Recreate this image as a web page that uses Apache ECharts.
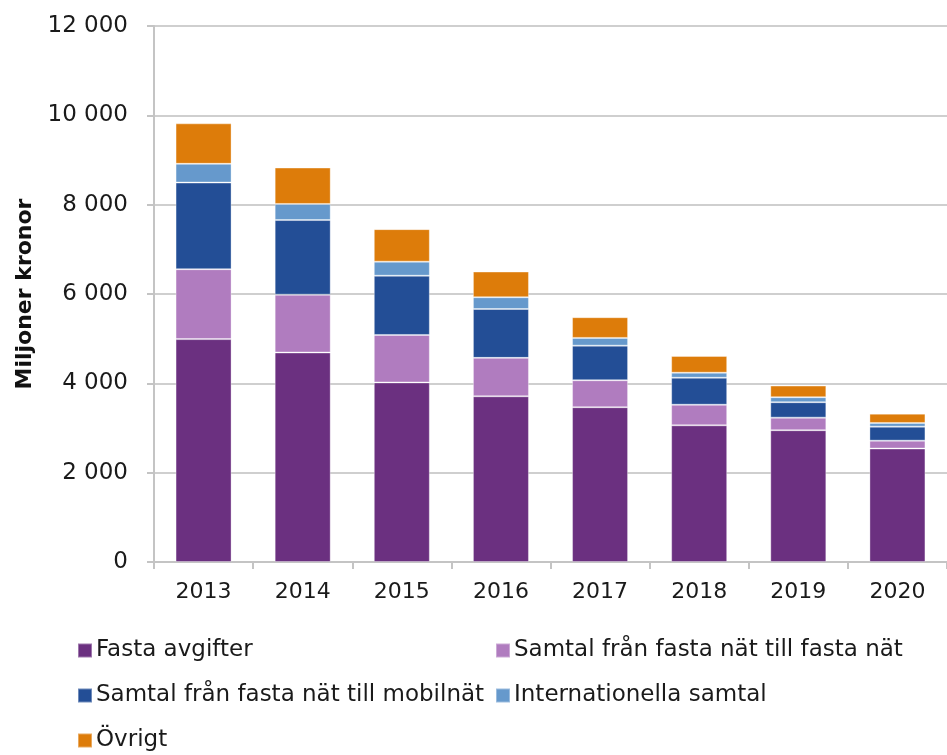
<!DOCTYPE html>
<html><head><meta charset="utf-8">
<script src="https://cdn.jsdelivr.net/npm/echarts@6/dist/echarts.min.js"></script>
<style>html,body{margin:0;padding:0;background:#fff}#c{width:947px;height:755px}</style>
</head><body><div id="c"></div>
<script>
const years = ['2013','2014','2015','2016','2017','2018','2019','2020'];
const seriesNames = ['Fasta avgifter','Samtal från fasta nät till fasta nät','Samtal från fasta nät till mobilnät','Internationella samtal','Övrigt'];
const fastaAvgifter = [4990, 4690, 4020, 3710, 3465, 3060, 2950, 2540];
const samtalFastaFasta = [1565, 1294, 1063, 860, 604, 461, 282, 177];
const samtalFastaMobil = [1940, 1672, 1326, 1094, 775, 605, 345, 313];
const internationella = [420, 360, 315, 263, 173, 112, 112, 83];
const ovrigt = [905, 815, 728, 575, 463, 374, 260, 208];
const yTicks = [0, 2000, 4000, 6000, 8000, 10000, 12000];
const colors = ['#6b3080','#b07cbf','#234e96','#6699cc','#dd7c0a'];
const values = [fastaAvgifter, samtalFastaFasta, samtalFastaMobil, internationella, ovrigt];

const font = 'DejaVu Sans';
const legendPos = [[72,634],[490,634],[72,679],[490,679],[72,724]];
const chart = echarts.init(document.getElementById('c'));
chart.setOption({
  animation:false,
  textStyle:{fontFamily:font},
  grid:{left:154, top:26, width:803, height:536, containLabel:false},
  legend: seriesNames.map((n,i)=>({
    data:[n], left:legendPos[i][0], top:legendPos[i][1], icon:'rect', itemWidth:14, itemHeight:14, itemGap:6,
    textStyle:{fontFamily:font, fontSize:23, color:'#1a1a1a', padding:[0,0,0,-1]}, selectedMode:false
  })),
  xAxis:{type:'category', data:years,
    axisLine:{lineStyle:{color:'#c4c4c4', width:2}},
    axisTick:{show:true, length:7, lineStyle:{color:'#c4c4c4', width:2}},
    axisLabel:{fontSize:22, color:'#1a1a1a', margin:19, fontFamily:font}},
  yAxis:{type:'value', min:yTicks[0], max:yTicks[yTicks.length-1], interval:2000,
    name:'Miljoner kronor', nameLocation:'middle', nameGap:118,
    nameTextStyle:{fontSize:22, fontWeight:'bold', color:'#111', fontFamily:font},
    axisLine:{show:true, lineStyle:{color:'#c4c4c4', width:2}},
    axisTick:{show:true, length:7, lineStyle:{color:'#c4c4c4', width:2}},
    splitLine:{lineStyle:{color:'#cfcfcf', width:2}},
    axisLabel:{fontSize:23, color:'#1a1a1a', margin:26, fontFamily:font,
      formatter:v=>String(v).replace(/\B(?=(\d{3})+(?!\d))/g,' ')}},
  series: seriesNames.map((n,i)=>({
    name:n, type:'bar', stack:'total', data:values[i], barWidth:'56.5%',
    itemStyle:{color:colors[i], borderColor:'rgba(255,255,255,0.35)', borderWidth:1}
  }))
});
</script></body></html>
